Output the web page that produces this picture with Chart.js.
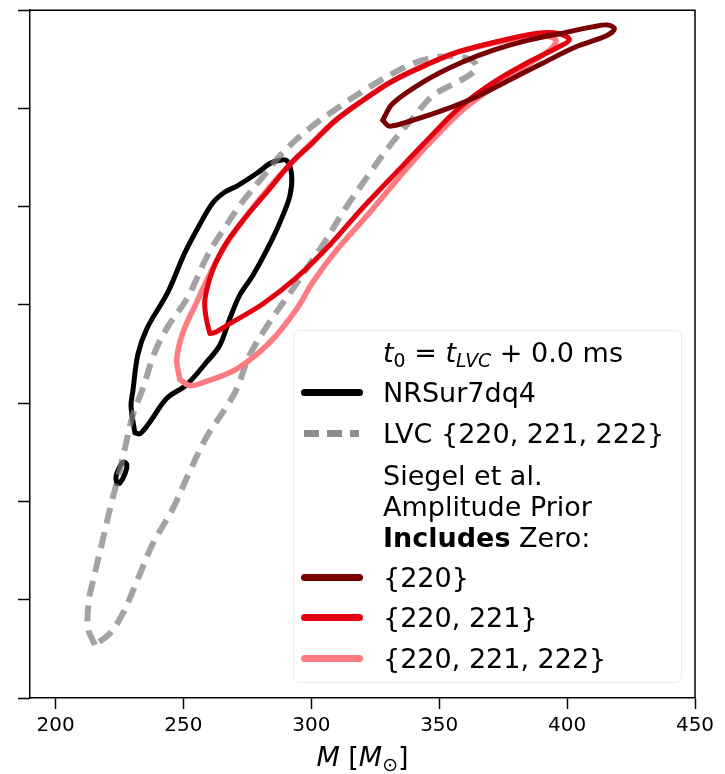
<!DOCTYPE html>
<html>
<head>
<meta charset="utf-8">
<title>Remnant mass posterior contours</title>
<script src="https://cdn.jsdelivr.net/npm/chart.js@4.4.1/dist/chart.umd.min.js"></script>
<style>
  body { margin: 0; background: #fff; font-family: "DejaVu Sans", sans-serif; }
  #wrap { position: relative; width: 725px; height: 774px; }
  #chart { position: absolute; left: 0; top: 0; }

  #legend {
    position: absolute; left: 293px; top: 330px; width: 389px; height: 353px;
    box-sizing: border-box; border: 1px solid #ebebeb; border-radius: 6px;
    background: rgba(255, 255, 255, 0.8);
  }
  .row { position: absolute; left: 0; font-size: 27px; line-height: 31px; color: #000; white-space: nowrap; }
  .row .txt { position: absolute; left: 89px; top: 0; }
  .row .swatch { position: absolute; left: 7px; top: 12px; width: 62px; height: 7px; border-radius: 4px; }
  .row .swatch.dashed {
    left: 10px; width: 55px; border-radius: 0;
    background: repeating-linear-gradient(to right, #8c8c8c 0 15px, transparent 15px 23px) !important;
  }
  sub { font-size: 0.7em; vertical-align: -0.25em; line-height: 0; }

  #xtitle { position: absolute; left: 0; width: 725px; top: 740px; text-align: center; font-size: 27px; line-height: 34px; }
</style>
</head>
<body>
<div id="wrap">
  <canvas id="chart" width="725" height="774"></canvas>
  <div id="legend"></div>
  <div id="xtitle"><i>M</i> [<i>M</i><sub>⊙</sub>]</div>
</div>

<script>
// axes
const massMin = 190;
const massMax = 450;
const massTicks = [200, 250, 300, 350, 400, 450];
const spinMin = 0.3;
const spinMax = 1.0;
const spinStep = 0.1;

// NRSur7dq4 contour (main loop + small island)
const nrsurMass = [231.0, 229.5, 230.2, 232.2, 235.7, 243.9, 250.5, 256.4, 261.5, 266.2, 270.9, 278.7, 283.8, 287.3, 290.4, 292.3, 291.6, 287.7, 282.6, 277.1, 272.0, 268.1, 264.2, 259.1, 251.3, 243.5, 236.9, 233.0, 231.0];
const nrsurSpin = [0.570, 0.597, 0.612, 0.650, 0.676, 0.713, 0.753, 0.782, 0.804, 0.815, 0.821, 0.834, 0.844, 0.847, 0.847, 0.832, 0.811, 0.784, 0.756, 0.730, 0.710, 0.686, 0.659, 0.642, 0.619, 0.605, 0.581, 0.569, 0.570];
const nrsurIslandMass = [224.0, 223.6, 224.8, 226.7, 227.9, 227.1, 225.2, 224.0];
const nrsurIslandSpin = [0.518, 0.525, 0.534, 0.540, 0.537, 0.528, 0.519, 0.518];

// LVC {220, 221, 222}
const lvcMass = [215.4, 212.7, 213.0, 214.6, 218.1, 221.3, 224.4, 227.1, 230.2, 234.1, 238.8, 243.9, 251.7, 259.5, 266.2, 272.8, 280.6, 288.8, 299.4, 311.1, 322.8, 337.3, 346.3, 356.0, 362.7, 364.6, 361.9, 354.1, 347.4, 339.6, 330.6, 322.8, 313.0, 305.2, 300.5, 292.7, 283.8, 275.9, 270.9, 267.0, 259.1, 252.5, 245.9, 238.0, 231.8, 226.3, 221.3, 215.4];
const lvcSpin = [0.354, 0.371, 0.399, 0.419, 0.457, 0.493, 0.524, 0.554, 0.588, 0.615, 0.652, 0.678, 0.708, 0.751, 0.779, 0.804, 0.829, 0.855, 0.880, 0.902, 0.922, 0.943, 0.951, 0.953, 0.949, 0.942, 0.934, 0.923, 0.913, 0.890, 0.862, 0.834, 0.797, 0.764, 0.746, 0.716, 0.683, 0.649, 0.615, 0.597, 0.566, 0.531, 0.493, 0.457, 0.419, 0.386, 0.366, 0.354];

// Siegel et al. prior, {220}
const m220Mass = [327.9, 331.8, 345.1, 358.0, 370.9, 384.1, 397.0, 409.9, 415.8, 418.5, 415.4, 403.7, 390.4, 377.5, 364.6, 351.3, 338.4, 330.6, 327.9];
const m220Spin = [0.888, 0.905, 0.929, 0.946, 0.959, 0.969, 0.976, 0.983, 0.985, 0.981, 0.974, 0.963, 0.946, 0.929, 0.912, 0.898, 0.887, 0.882, 0.888];

// {220, 221}
const m221Mass = [260.3, 258.8, 258.4, 261.5, 267.0, 274.8, 283.0, 291.6, 300.5, 309.1, 318.9, 331.8, 346.3, 358.0, 377.5, 390.4, 397.0, 400.9, 397.0, 384.1, 370.9, 358.0, 344.3, 331.8, 320.1, 307.2, 294.3, 281.0, 268.1, 262.3, 260.3];
const m221Spin = [0.671, 0.688, 0.706, 0.736, 0.764, 0.791, 0.816, 0.843, 0.865, 0.887, 0.906, 0.928, 0.946, 0.958, 0.971, 0.977, 0.976, 0.970, 0.963, 0.946, 0.926, 0.901, 0.865, 0.831, 0.799, 0.761, 0.728, 0.701, 0.681, 0.672, 0.671];

// {220, 221, 222}
const m222Mass = [248.6, 247.4, 249.8, 255.2, 259.1, 266.2, 274.4, 283.0, 291.6, 300.5, 309.1, 318.9, 331.8, 346.3, 358.0, 377.5, 389.2, 395.5, 393.9, 387.3, 373.6, 359.9, 346.3, 335.7, 322.8, 309.9, 300.5, 294.3, 283.8, 270.9, 257.6, 252.5, 248.6];
const m222Spin = [0.624, 0.645, 0.672, 0.703, 0.725, 0.760, 0.790, 0.818, 0.843, 0.866, 0.887, 0.906, 0.928, 0.946, 0.958, 0.970, 0.974, 0.970, 0.961, 0.949, 0.926, 0.900, 0.865, 0.834, 0.794, 0.756, 0.723, 0.696, 0.662, 0.635, 0.621, 0.618, 0.624];

const colNR = "#000000";
const colLVC = "rgba(128, 128, 128, 0.72)";
const col220 = "#780000";
const col221 = "#e3000f";
const col222 = "#ff7b82";

const toPoints = (xs, ys) => xs.map((x, i) => ({ x: x, y: ys[i] }));

const contour = (label, xs, ys, color, extra) => Object.assign({
  label: label,
  data: toPoints(xs, ys),
  showLine: true,
  borderColor: color,
  borderWidth: 5,
  pointRadius: 0,
  pointHoverRadius: 0,
  fill: false,
  tension: 0.35,
  borderJoinStyle: "round",
  borderCapStyle: "round"
}, extra || {});

// top and right spines
const framePlugin = {
  id: "frame",
  afterDraw(chart) {
    const { ctx, chartArea: a } = chart;
    ctx.save();
    ctx.strokeStyle = "#000";
    ctx.lineWidth = 1.5;
    ctx.beginPath();
    ctx.moveTo(a.left, a.top);
    ctx.lineTo(a.right, a.top);
    ctx.lineTo(a.right, a.bottom);
    ctx.stroke();
    ctx.restore();
  }
};

Chart.defaults.font.family = "'DejaVu Sans', sans-serif";
Chart.defaults.color = "#000";

let ctx = document.getElementById("chart").getContext("2d");
new Chart(ctx, {
  type: "scatter",
  data: {
    // first dataset ends up on top
    datasets: [
      contour("{220}", m220Mass, m220Spin, col220),
      contour("{220, 221}", m221Mass, m221Spin, col221),
      contour("{220, 221, 222}", m222Mass, m222Spin, col222, { borderWidth: 5.5 }),
      contour("LVC {220, 221, 222}", lvcMass, lvcSpin, colLVC, { borderWidth: 6, borderDash: [16, 9], borderCapStyle: "butt" }),
      contour("NRSur7dq4", nrsurMass, nrsurSpin, colNR),
      contour("NRSur7dq4 island", nrsurIslandMass, nrsurIslandSpin, colNR, { tension: 0.4 })
    ]
  },
  options: {
    responsive: false,
    animation: false,
    devicePixelRatio: 1,
    layout: { padding: { top: 7, right: 30, left: 0, bottom: 0 } },
    plugins: { legend: { display: false }, tooltip: { enabled: false } },
    scales: {
      x: {
        type: "linear",
        min: massMin,
        max: massMax,
        afterFit(scale) { scale.height = 76; },
        afterBuildTicks(scale) { scale.ticks = massTicks.map(v => ({ value: v })); },
        grid: { drawOnChartArea: false, drawTicks: true, tickLength: 11, tickColor: "#000", tickWidth: 1.5 },
        border: { display: true, color: "#000", width: 1.5 },
        ticks: { font: { size: 20 }, padding: 5, maxRotation: 0, autoSkip: false }
      },
      y: {
        type: "linear",
        min: spinMin,
        max: spinMax,
        afterFit(scale) { scale.width = 30; },
        grid: { drawOnChartArea: false, drawTicks: true, tickLength: 12, tickColor: "#000", tickWidth: 1.5 },
        border: { display: true, color: "#000", width: 1.5 },
        ticks: { stepSize: spinStep, callback: () => "" }
      }
    }
  },
  plugins: [framePlugin]
});

// legend box
const legendRows = [
  { top: 6, html: '<i>t</i><sub>0</sub> = <i>t</i><sub><i>LVC</i></sub> + 0.0 ms' },
  { top: 46, html: "NRSur7dq4", color: colNR },
  { top: 87, html: "LVC {220, 221, 222}", dashed: true },
  { top: 129, html: "Siegel et al.<br>Amplitude Prior<br><b>Includes</b> Zero:" },
  { top: 231, html: "{220}", color: col220 },
  { top: 271, html: "{220, 221}", color: col221 },
  { top: 312, html: "{220, 221, 222}", color: col222 }
];

const legend = document.getElementById("legend");
legendRows.forEach(r => {
  let row = document.createElement("div");
  row.className = "row";
  row.style.top = r.top + "px";
  let sw = "";
  if (r.dashed) sw = '<span class="swatch dashed"></span>';
  else if (r.color) sw = '<span class="swatch" style="background:' + r.color + '"></span>';
  row.innerHTML = sw + '<span class="txt">' + r.html + "</span>";
  legend.appendChild(row);
});
</script>
</body>
</html>
